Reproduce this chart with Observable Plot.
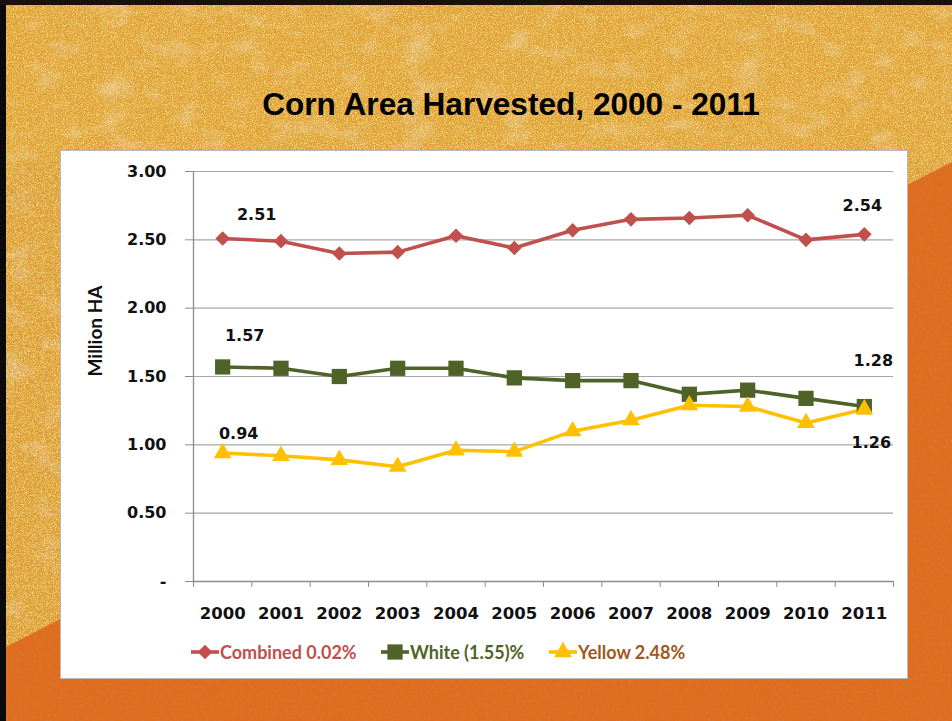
<!DOCTYPE html>
<html>
<head>
<meta charset="utf-8">
<script src="https://cdn.jsdelivr.net/npm/d3@7"></script>
<script src="https://cdn.jsdelivr.net/npm/@observablehq/plot@0.6"></script>
<style>
  html, body { margin: 0; padding: 0; }
  body { width: 952px; height: 721px; position: relative; overflow: hidden; font-family: Lato, "Open Sans", sans-serif; }
  #bg { position: absolute; left: 0; top: 0; }
  #title { position: absolute; left: 0; width: 1022px; top: 86px; text-align: center; line-height: 36px;
    font-family: "Liberation Sans", Arial, sans-serif; font-weight: bold; font-size: 31.6px; color: #000; }
  #panel { position: absolute; left: 60px; top: 150px; width: 846px; height: 527px; background: #fff;
    border: 1px solid #b8b8b8; }
  #chart { position: absolute; left: 0; top: 0; }
  .leg { position: absolute; top: 490px; display: flex; align-items: center; font-size: 18px; font-weight: bold; white-space: nowrap; }
  .leg svg { display: block; margin-right: 1px; }
</style>
</head>
<body>
<svg id="bg" width="952" height="721">
  <defs>
    <filter id="speckY" x="0" y="0" width="100%" height="100%">
      <feTurbulence type="fractalNoise" baseFrequency="0.9" numOctaves="2" seed="4" result="n"/>
      <feColorMatrix in="n" type="matrix" values="0 0 0 0 0.99  0 0 0 0 0.86  0 0 0 0 0.3  0 0 0 3.5 -1.6" />
    </filter>
    <filter id="speckO" x="0" y="0" width="100%" height="100%">
      <feTurbulence type="fractalNoise" baseFrequency="0.75" numOctaves="2" seed="11" result="n"/>
      <feColorMatrix in="n" type="matrix" values="0 0 0 0 0.8  0 0 0 0 0.45  0 0 0 0 0.12  0 0 0 3.5 -1.65" />
    </filter>
    <filter id="patch" x="0" y="0" width="100%" height="100%">
      <feTurbulence type="fractalNoise" baseFrequency="0.03 0.05" numOctaves="3" seed="9" result="n"/>
      <feColorMatrix in="n" type="matrix" values="0 0 0 0 0.86  0 0 0 0 0.78  0 0 0 0 0.72  0 0 0 2.5 -1.3" />
    </filter>
    <filter id="speckDark" x="0" y="0" width="100%" height="100%">
      <feTurbulence type="fractalNoise" baseFrequency="0.35" numOctaves="3" seed="2" result="n"/>
      <feColorMatrix in="n" type="matrix" values="0 0 0 0 0.55  0 0 0 0 0.25  0 0 0 0 0.08  0 0 0 2.2 -1.0" />
    </filter>
  </defs>
  <rect width="952" height="721" fill="#e0a030"/>
  <rect width="952" height="721" filter="url(#patch)" opacity="0.5"/>
  <rect width="952" height="721" filter="url(#speckY)" opacity="0.9"/>
  <rect width="952" height="721" filter="url(#speckO)" opacity="0.7"/>
  <rect width="952" height="721" filter="url(#speckDark)" opacity="0.25"/>
  <polygon points="0,650 952,162 952,721 0,721" fill="#e06c1e"/>
  <polygon points="0,650 952,162 952,721 0,721" fill="#000" opacity="0.5" filter="url(#speckDark)"/>
  <rect x="0" y="0" width="6" height="721" fill="#0a0a0a"/>
  <rect x="0" y="0" width="952" height="5" fill="#1a120a"/>
</svg>
<div id="title">Corn Area Harvested, 2000 - 2011</div>
<div id="panel"><div id="chart"></div></div>
<script>
const years = [2000, 2001, 2002, 2003, 2004, 2005, 2006, 2007, 2008, 2009, 2010, 2011];
const combined = [2.51, 2.49, 2.40, 2.41, 2.53, 2.44, 2.57, 2.65, 2.66, 2.68, 2.50, 2.54];
const white = [1.57, 1.56, 1.50, 1.56, 1.56, 1.49, 1.47, 1.47, 1.37, 1.40, 1.34, 1.28];
const yellow = [0.94, 0.92, 0.89, 0.84, 0.96, 0.95, 1.10, 1.18, 1.29, 1.28, 1.16, 1.26];
const seriesNames = ["Combined 0.02%", "White (1.55)%", "Yellow 2.48%"];
const yTicks = [0, 0.5, 1, 1.5, 2, 2.5, 3];
const yLabel = "Million HA";

const colors = ["#c0504d", "#4f6228", "#ffc000"];
const textColors = ["#c0504d", "#4f6228", "#a0581c"];
const symbols = ["diamond2", "square", "triangle"];
const radii = [6.6, 8.6, 6.6];

const seriesValues = [combined, white, yellow];
const rows = [];
seriesValues.forEach((vals, s) => vals.forEach((v, i) => rows.push({series: seriesNames[s], year: years[i], value: v})));
const bySeries = s => rows.filter(d => d.series === seriesNames[s]);
const first = s => bySeries(s).filter(d => d.year === years[0]);
const last = s => bySeries(s).filter(d => d.year === years[years.length - 1]);

const boundaries = d3.range(years.length + 1).map(i => years[0] - 0.5 + i);
const axisColor = "#8c8c8c";
const font = "Lato, 'Open Sans', sans-serif";
const numFont = "'DejaVu Sans', Verdana, sans-serif";

const labelStyle = {text: d => d.value.toFixed(2), fontSize: 16, fontWeight: "bold", fill: "#111", fontFamily: numFont, letterSpacing: "0.6px"};

const marks = [
  Plot.gridY(yTicks.slice(1), {stroke: "#a6a6a6", strokeOpacity: 1, strokeWidth: 1.1}),
  Plot.ruleX([boundaries[0]], {y1: 0, y2: yTicks[yTicks.length - 1], stroke: axisColor, strokeWidth: 1.3}),
  Plot.ruleY([0], {stroke: axisColor, strokeWidth: 1.3}),
  Plot.axisY(yTicks, {tickSize: 8, tickPadding: 19, stroke: axisColor, tickFormat: d => d === 0 ? "-" : d.toFixed(2),
    fontSize: 16, fontWeight: "bold", fill: "#111", fontFamily: numFont, letterSpacing: "0.6px", label: null}),
  Plot.axisX(boundaries, {tickSize: 6, stroke: axisColor, tickFormat: () => "", label: null}),
  Plot.axisX(years, {tickSize: 0, tickPadding: 26, tickFormat: d => String(d), fontSize: 16.5, fontWeight: "bold",
    fill: "#111", fontFamily: numFont, letterSpacing: "1.2px", label: null}),
  Plot.text([yLabel], {frameAnchor: "left", rotate: -90, dx: -98, fontSize: 19, fontWeight: "bold", fill: "#111", fontFamily: font, letterSpacing: "0.5px"})
];
seriesNames.forEach((name, s) => {
  marks.push(Plot.line(bySeries(s), {x: "year", y: "value", stroke: colors[s], strokeWidth: 3.6}));
});
seriesNames.forEach((name, s) => {
  marks.push(Plot.dot(bySeries(s), {x: "year", y: "value", fill: colors[s], stroke: null, symbol: symbols[s], r: radii[s]}));
});
marks.push(
  Plot.text(first(0), {x: "year", y: "value", dx: 34, dy: -24, ...labelStyle}),
  Plot.text(last(0), {x: "year", y: "value", dx: -2, dy: -28, ...labelStyle}),
  Plot.text(first(1), {x: "year", y: "value", dx: 22, dy: -31, ...labelStyle}),
  Plot.text(last(1), {x: "year", y: "value", dx: 9, dy: -46, ...labelStyle}),
  Plot.text(first(2), {x: "year", y: "value", dx: 16, dy: -19, ...labelStyle}),
  Plot.text(last(2), {x: "year", y: "value", dx: 7, dy: 34, ...labelStyle})
);

const chart = Plot.plot({
  width: 846, height: 480,
  marginLeft: 132, marginRight: 14, marginTop: 20, marginBottom: 50,
  style: {background: "transparent", overflow: "visible"},
  x: {type: "linear", domain: [boundaries[0], boundaries[boundaries.length - 1]]},
  y: {domain: [yTicks[0], yTicks[yTicks.length - 1]]},
  marks
});
document.getElementById("chart").appendChild(chart);

// legend
const legendLeft = [130, 320, 488];
const panel = document.getElementById("panel");
seriesNames.forEach((name, s) => {
  const item = document.createElement("div");
  item.className = "leg";
  item.style.left = legendLeft[s] + "px";
  item.style.color = textColors[s];
  const sym = d3.symbol(d3[{diamond2: "symbolDiamond2", square: "symbolSquare", triangle: "symbolTriangle"}[symbols[s]]], radii[s] * radii[s] * Math.PI)();
  item.innerHTML = `<svg width="28" height="20"><line x1="0" x2="28" y1="10" y2="10" stroke="${colors[s]}" stroke-width="3.6"/>` +
    `<path transform="translate(14,10)" d="${sym}" fill="${colors[s]}"/></svg><span>${name}</span>`;
  panel.appendChild(item);
});
</script>
</body>
</html>
